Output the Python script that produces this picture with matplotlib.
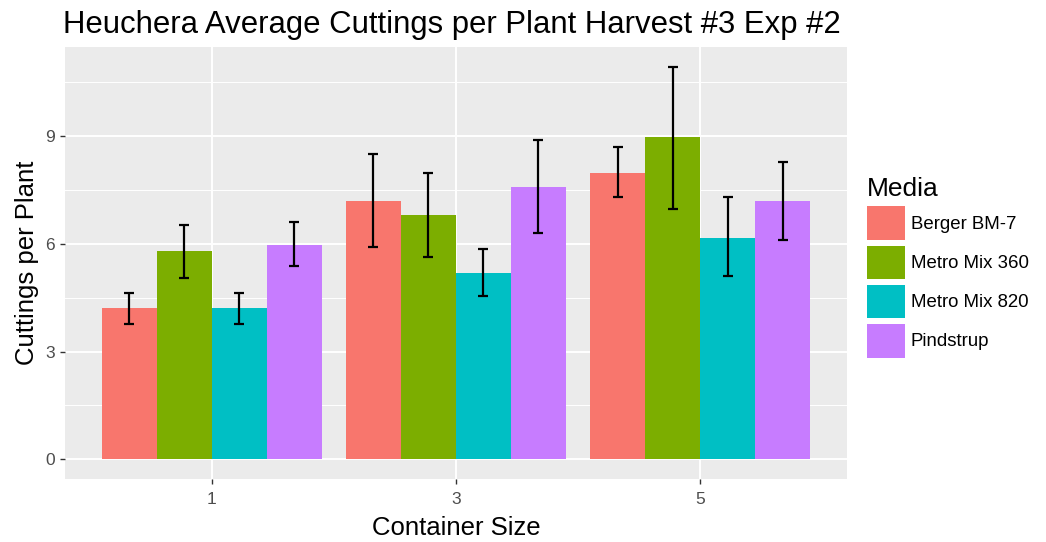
import numpy as np
import matplotlib
matplotlib.use("Agg")
import matplotlib.pyplot as plt
from matplotlib.patches import Patch

plt.rcParams["font.family"] = ["Liberation Sans", "DejaVu Sans"]

# data
sizes = ["1", "3", "5"]
media = ["Berger BM-7", "Metro Mix 360", "Metro Mix 820", "Pindstrup"]
colors = ["#F8766D", "#7CAE00", "#00BFC4", "#C77CFF"]
berger = [4.21, 7.20, 7.97]
mm360 = [5.79, 6.81, 8.97]
mm820 = [4.21, 5.19, 6.17]
pind = [5.98, 7.59, 7.20]
berger_lo = [3.76, 5.90, 7.31]
berger_hi = [4.63, 8.49, 8.69]
mm360_lo = [5.05, 5.62, 6.98]
mm360_hi = [6.53, 7.96, 10.93]
mm820_lo = [3.76, 4.54, 5.09]
mm820_hi = [4.63, 5.85, 7.30]
pind_lo = [5.39, 6.30, 6.11]
pind_hi = [6.60, 8.89, 8.29]

means = [berger, mm360, mm820, pind]
lows = [berger_lo, mm360_lo, mm820_lo, pind_lo]
highs = [berger_hi, mm360_hi, mm820_hi, pind_hi]

fig = plt.figure(figsize=(10.46, 5.42), dpi=100)
ax = fig.add_axes([0.0621, 0.1162, 0.7476, 0.797])
ax.set_facecolor("#EBEBEB")

x = np.arange(1, len(sizes) + 1)
w = 0.9 / len(media)
for i, (m, lo, hi) in enumerate(zip(means, lows, highs)):
    pos = x - 0.45 + w * (i + 0.5)
    m = np.array(m)
    ax.bar(pos, m, width=w, color=colors[i], zorder=3)
    ax.errorbar(pos, m, yerr=[m - np.array(lo), np.array(hi) - m], fmt="none",
                ecolor="black", elinewidth=1.6, capsize=3.6, capthick=1.6, zorder=4)

ax.set_xlim(0.4, 3.6)
ax.set_ylim(-0.55, 11.48)
ax.set_yticks([0, 3, 6, 9])
ax.set_yticks([1.5, 4.5, 7.5, 10.5], minor=True)
ax.set_xticks(x)
ax.set_xticklabels(sizes)
ax.grid(which="major", color="white", linewidth=1.4, zorder=0)
ax.grid(which="minor", axis="y", color="white", linewidth=0.7, zorder=0)
for s in ax.spines.values():
    s.set_visible(False)
ax.tick_params(axis="both", which="major", length=3.5, color="#333333",
               labelcolor="#4D4D4D", labelsize=12.5, width=1, pad=4)
ax.tick_params(axis="x", which="major", pad=6)
ax.tick_params(axis="y", which="minor", length=0)

ax.set_title("Heuchera Average Cuttings per Plant Harvest #3 Exp #2",
             fontsize=22.4, loc="left", x=-0.003, pad=10)
ax.set_xlabel("Container Size", fontsize=18.5, labelpad=6)
ax.set_ylabel("Cuttings per Plant", fontsize=18.5, labelpad=4)

handles = [Patch(facecolor=c, label=l) for c, l in zip(colors, media)]
leg = fig.legend(handles=handles, title="Media", loc="center left",
                 bbox_to_anchor=(0.822, 0.507), frameon=False, fontsize=13.4,
                 title_fontsize=19, handlelength=2.05, handleheight=2.4,
                 handletextpad=0.3, labelspacing=0.3, borderaxespad=0)
leg._legend_box.align = "left"

fig.savefig("out.png", dpi=100)
